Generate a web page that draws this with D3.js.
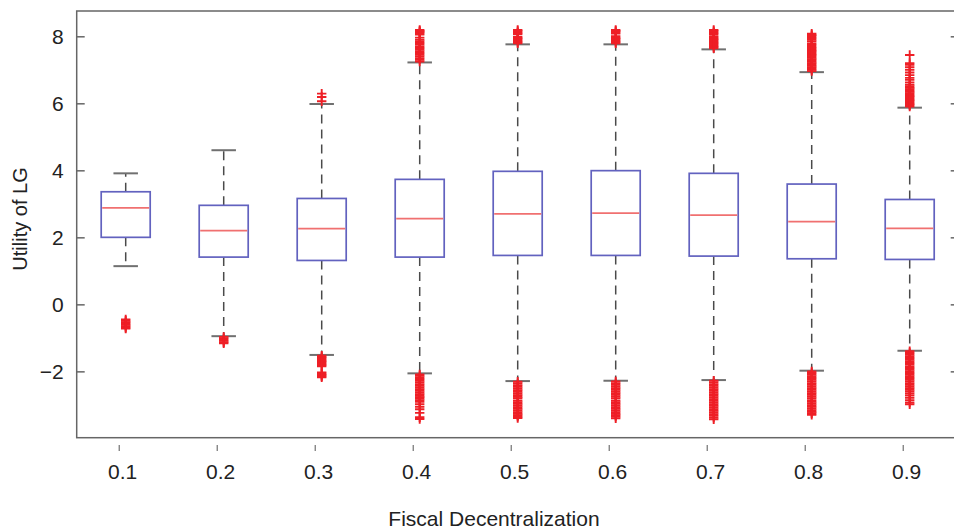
<!DOCTYPE html>
<html>
<head>
<meta charset="utf-8">
<script src="https://cdn.jsdelivr.net/npm/d3@7"></script>
<style>
  html, body { margin: 0; padding: 0; background: #fff; }
  svg { display: block; font-family: "Liberation Sans", Arial, sans-serif; }
</style>
</head>
<body>
<svg id="chart" width="954" height="530"></svg>
<script>
// Fiscal decentralization levels (x) and box statistics of LG utility
const levels = [0.1, 0.2, 0.3, 0.4, 0.5, 0.6, 0.7, 0.8, 0.9];
const tickLabels = ["0.1", "0.2", "0.3", "0.4", "0.5", "0.6", "0.7", "0.8", "0.9"];
const q1 = [2.00, 1.41, 1.31, 1.41, 1.46, 1.46, 1.44, 1.36, 1.34];
const medians = [2.88, 2.20, 2.26, 2.56, 2.70, 2.72, 2.66, 2.47, 2.27];
const q3 = [3.36, 2.955, 3.16, 3.73, 3.97, 3.99, 3.91, 3.59, 3.13];
const whiskerLow = [1.14, -0.95, -1.51, -2.06, -2.29, -2.28, -2.26, -1.98, -1.385];
const whiskerHigh = [3.91, 4.60, 5.98, 7.22, 7.76, 7.76, 7.61, 6.93, 5.87];

// Flier values above the upper whisker
const fliersHigh = [
  [],
  [],
  [6.06, 6.19, 6.29],
  [7.25, 7.30, 7.35, 7.40, 7.45, 7.50, 7.55, 7.60, 7.65, 7.70, 7.75, 7.80, 7.85, 7.90, 7.96, 8.05, 8.09, 8.13, 8.16, 8.19],
  [7.79, 7.83, 7.87, 7.91, 7.95, 7.99, 8.07, 8.11, 8.15, 8.19],
  [7.79, 7.83, 7.87, 7.91, 7.95, 8.00, 8.08, 8.12, 8.16, 8.19],
  [7.64, 7.68, 7.72, 7.76, 7.80, 7.84, 7.88, 7.92, 7.96, 8.00, 8.07, 8.11, 8.15, 8.19],
  [6.96, 7.00, 7.04, 7.08, 7.12, 7.16, 7.20, 7.24, 7.28, 7.32, 7.36, 7.40, 7.44, 7.48, 7.52, 7.56, 7.60, 7.64, 7.68, 7.74, 7.79, 7.85, 7.90, 7.95, 8.00, 8.04, 8.08],
  [5.90, 5.94, 5.98, 6.02, 6.06, 6.10, 6.14, 6.18, 6.22, 6.26, 6.30, 6.34, 6.38, 6.42, 6.46, 6.50, 6.55, 6.62, 6.70, 6.76, 6.84, 6.92, 7.00, 7.08, 7.15, 7.20, 7.44]
];

// Flier values below the lower whisker
const fliersLow = [
  [-0.45, -0.49, -0.53, -0.57, -0.61, -0.65, -0.69, -0.72],
  [-0.97, -1.01, -1.05, -1.09, -1.13, -1.16],
  [-1.53, -1.57, -1.61, -1.65, -1.69, -1.73, -1.77, -1.81, -1.85, -2.03, -2.07, -2.11, -2.15, -2.18],
  [-2.09, -2.13, -2.18, -2.23, -2.28, -2.33, -2.38, -2.43, -2.48, -2.53, -2.58, -2.63, -2.68, -2.73, -2.77, -2.81, -2.86, -2.91, -2.98, -3.06, -3.13, -3.24, -3.37, -3.42],
  [-2.31, -2.36, -2.41, -2.46, -2.51, -2.56, -2.61, -2.66, -2.71, -2.76, -2.80, -2.87, -2.92, -2.97, -3.02, -3.07, -3.12, -3.17, -3.22, -3.27, -3.31, -3.35, -3.39],
  [-2.30, -2.35, -2.40, -2.45, -2.50, -2.55, -2.60, -2.65, -2.70, -2.75, -2.80, -2.87, -2.92, -2.97, -3.02, -3.07, -3.12, -3.17, -3.22, -3.27, -3.31, -3.35, -3.40],
  [-2.28, -2.33, -2.38, -2.43, -2.48, -2.53, -2.58, -2.63, -2.68, -2.73, -2.78, -2.83, -2.88, -2.93, -2.98, -3.03, -3.08, -3.13, -3.18, -3.23, -3.28, -3.33, -3.38, -3.43],
  [-2.00, -2.05, -2.10, -2.15, -2.20, -2.25, -2.30, -2.35, -2.40, -2.45, -2.50, -2.55, -2.60, -2.65, -2.70, -2.75, -2.80, -2.86, -2.91, -2.96, -3.01, -3.06, -3.11, -3.16, -3.21, -3.25, -3.30],
  [-1.40, -1.45, -1.50, -1.55, -1.60, -1.65, -1.70, -1.75, -1.80, -1.85, -1.90, -1.95, -2.00, -2.05, -2.10, -2.15, -2.20, -2.25, -2.30, -2.35, -2.40, -2.45, -2.50, -2.55, -2.60, -2.66, -2.72, -2.79, -2.86, -2.93, -2.98]
];

const yTicks = [-2, 0, 2, 4, 6, 8];
const xLimits = [0.05, 0.95];
const yLimits = [-3.98, 8.755];

const svg = d3.select("#chart");
const plot = { left: 76.7, right: 958.7, top: 11, bottom: 437.7 };

const x = d3.scaleLinear().domain(xLimits).range([plot.left, plot.right]);
const y = d3.scaleLinear().domain(yLimits).range([plot.bottom, plot.top]);

const step = x(levels[1]) - x(levels[0]);
const boxW = step * 0.5;
const capW = step * 0.25;
const arm = 4.7;

const frameColor = "#666";

// Frame
svg.append("rect")
  .attr("x", plot.left).attr("y", plot.top)
  .attr("width", plot.right - plot.left).attr("height", plot.bottom - plot.top)
  .attr("fill", "none").attr("stroke", frameColor).attr("stroke-width", 1.5);

const boxes = levels.map((v, i) => ({
  v, q1: q1[i], med: medians[i], q3: q3[i], lo: whiskerLow[i], hi: whiskerHigh[i],
  fHigh: fliersHigh[i], fLow: fliersLow[i]
}));

const g = svg.append("g");

// Whiskers (dashed, drawn outward from the box)
g.selectAll("path.whisker-up").data(boxes).join("path")
  .attr("d", d => `M${x(d.v)},${y(d.q3)}V${y(d.hi)}`)
  .attr("stroke", "#4a4a4a").attr("stroke-width", 1.5)
  .attr("stroke-dasharray", "9,6").attr("fill", "none");
g.selectAll("path.whisker-down").data(boxes).join("path")
  .attr("d", d => `M${x(d.v)},${y(d.q1)}V${y(d.lo)}`)
  .attr("stroke", "#4a4a4a").attr("stroke-width", 1.5)
  .attr("stroke-dasharray", "9,6").attr("fill", "none");

// Caps
["hi", "lo"].forEach(k => {
  g.selectAll(null).data(boxes).join("line")
    .attr("x1", d => x(d.v) - capW / 2).attr("x2", d => x(d.v) + capW / 2)
    .attr("y1", d => y(d[k])).attr("y2", d => y(d[k]))
    .attr("stroke", "#707070").attr("stroke-width", 2);
});

// Boxes
g.selectAll(null).data(boxes).join("rect")
  .attr("x", d => x(d.v) - boxW / 2).attr("width", boxW)
  .attr("y", d => y(d.q3)).attr("height", d => y(d.q1) - y(d.q3))
  .attr("fill", "none").attr("stroke", "#6262bf").attr("stroke-width", 1.7);

// Medians
g.selectAll(null).data(boxes).join("line")
  .attr("x1", d => x(d.v) - boxW / 2 + 1).attr("x2", d => x(d.v) + boxW / 2 - 1)
  .attr("y1", d => y(d.med)).attr("y2", d => y(d.med))
  .attr("stroke", "#f07070").attr("stroke-width", 1.8);

// Fliers drawn as "+" markers
const fliers = boxes.flatMap(d => d.fHigh.concat(d.fLow).map(val => ({ v: d.v, val })));
g.selectAll(null).data(fliers).join("path")
  .attr("d", d => {
    const cx = x(d.v), cy = y(d.val);
    return `M${cx - arm},${cy}H${cx + arm}M${cx},${cy - arm}V${cy + arm}`;
  })
  .attr("stroke", "#ee1f26").attr("stroke-width", 1.9).attr("fill", "none");

// Left axis with inward ticks
const yAxis = svg.append("g")
  .attr("transform", `translate(${plot.left},0)`)
  .call(d3.axisLeft(y).tickValues(yTicks).tickSizeInner(-8).tickSizeOuter(0).tickPadding(13));
yAxis.select(".domain").remove();
yAxis.selectAll(".tick line").attr("stroke", frameColor).attr("stroke-width", 1.5);
yAxis.selectAll(".tick text").attr("font-size", 21).attr("fill", "#222")
  .attr("font-family", "Liberation Sans, Arial, sans-serif");

// Right axis ticks (no labels)
const yAxisR = svg.append("g")
  .attr("transform", `translate(${plot.right},0)`)
  .call(d3.axisRight(y).tickValues(yTicks).tickSizeInner(-8).tickSizeOuter(0).tickFormat(""));
yAxisR.select(".domain").remove();
yAxisR.selectAll(".tick line").attr("stroke", frameColor).attr("stroke-width", 1.5);

// Bottom axis: short ticks set below the frame
const xAxis = svg.append("g")
  .attr("transform", `translate(-7,445)`)
  .call(d3.axisBottom(x).tickValues(levels).tickFormat((d, i) => tickLabels[i])
    .tickSizeInner(6).tickSizeOuter(0).tickPadding(13));
xAxis.select(".domain").remove();
xAxis.selectAll(".tick line").attr("stroke", "#555").attr("stroke-width", 1);
xAxis.selectAll(".tick text").attr("font-size", 21).attr("fill", "#222").attr("dx", 3.5)
  .attr("font-family", "Liberation Sans, Arial, sans-serif");

// Axis titles
svg.append("text")
  .attr("x", 494).attr("y", 526)
  .attr("text-anchor", "middle").attr("font-size", 21).attr("fill", "#222")
  .text("Fiscal Decentralization");

svg.append("text")
  .attr("transform", "translate(27,219) rotate(-90)")
  .attr("text-anchor", "middle").attr("font-size", 20).attr("fill", "#222")
  .text("Utility of LG");
</script>
</body>
</html>
